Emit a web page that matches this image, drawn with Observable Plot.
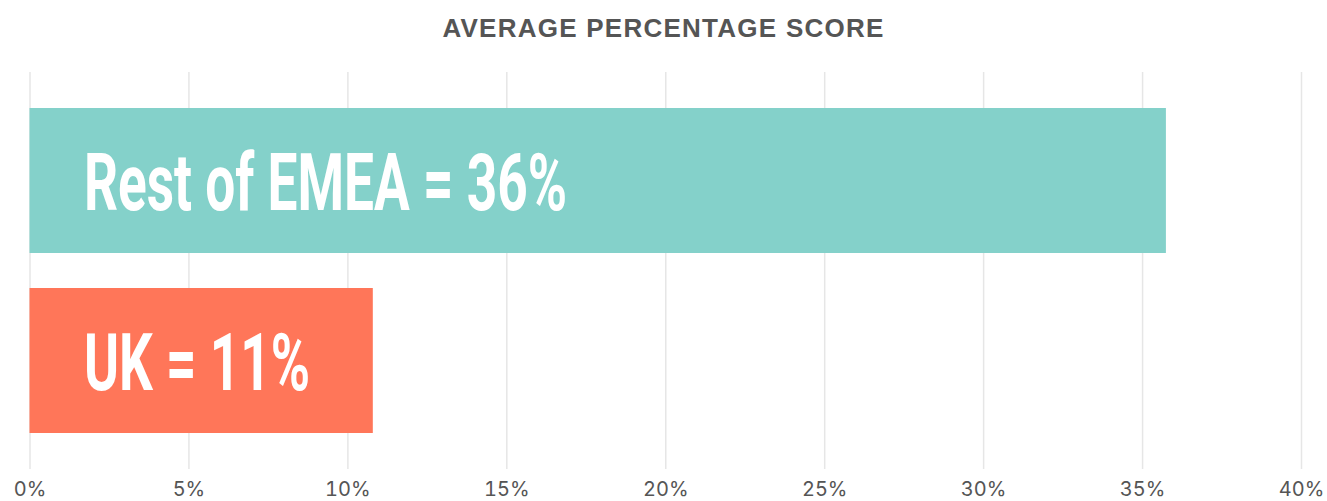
<!DOCTYPE html>
<html>
<head>
<meta charset="utf-8">
<script src="https://cdn.jsdelivr.net/npm/d3@7"></script>
<script src="https://cdn.jsdelivr.net/npm/@observablehq/plot@0.6"></script>
<style>
  html, body { margin: 0; padding: 0; background: #fff; }
  #title {
    height: 72px; box-sizing: border-box; padding-top: 13px;
    text-align: center; font-family: "Liberation Sans", Arial, sans-serif;
    font-weight: 700; font-size: 26px; letter-spacing: 1.25px; color: #555;
    line-height: 30px;
  }
  #chart svg { display: block; overflow: visible; }
</style>
</head>
<body>
<div id="title">AVERAGE PERCENTAGE SCORE</div>
<div id="chart"></div>
<script>
const regions = ["Rest of EMEA", "UK"];
const scores = [35.75, 10.8];
const labels = ["Rest of EMEA = 36%", "UK = 11%"];
const barColors = ["#84D1CA", "#FF7659"];
const ticks = [0, 5, 10, 15, 20, 25, 30, 35, 40];

const data = regions.map((r, i) => ({region: r, score: scores[i], label: labels[i], color: barColors[i]}));

const chart = Plot.plot({
  width: 1327,
  height: 429,
  marginLeft: 29.5,
  marginRight: 26,
  marginTop: 0,
  marginBottom: 32,
  style: {fontFamily: "Inter, 'Liberation Sans', sans-serif", background: "#fff"},
  x: {domain: [0, 40], ticks: ticks, tickFormat: d => d + "%", label: null},
  y: {domain: regions, paddingInner: 0.195, paddingOuter: 0.2, axis: null, label: null},
  marks: [
    Plot.ruleX(ticks, {stroke: "#e6e6e6", strokeWidth: 1.5}),
    Plot.barX(data, {x: "score", y: "region", fill: "color"}),
    Plot.text(data, {
      x: () => 0, y: "region", text: "label", textAnchor: "start", dx: 54, dy: 3,
      fill: "#fff", fontSize: 80, fontWeight: 700, fontFamily: "Roboto, sans-serif",
      className: "barlabel"
    }),
    Plot.axisX({ticks: ticks, tickFormat: d => d + "%", tickSize: 0, tickPadding: 12, fontSize: 20, fill: "#555", label: null})
  ]
});
d3.select(chart).selectAll(".barlabel text").each(function() {
  const t = d3.select(this);
  const tr = t.attr("transform") || "";
  t.attr("transform", tr + " scale(0.665,1)");
});
document.getElementById("chart").appendChild(chart);
</script>
</body>
</html>
